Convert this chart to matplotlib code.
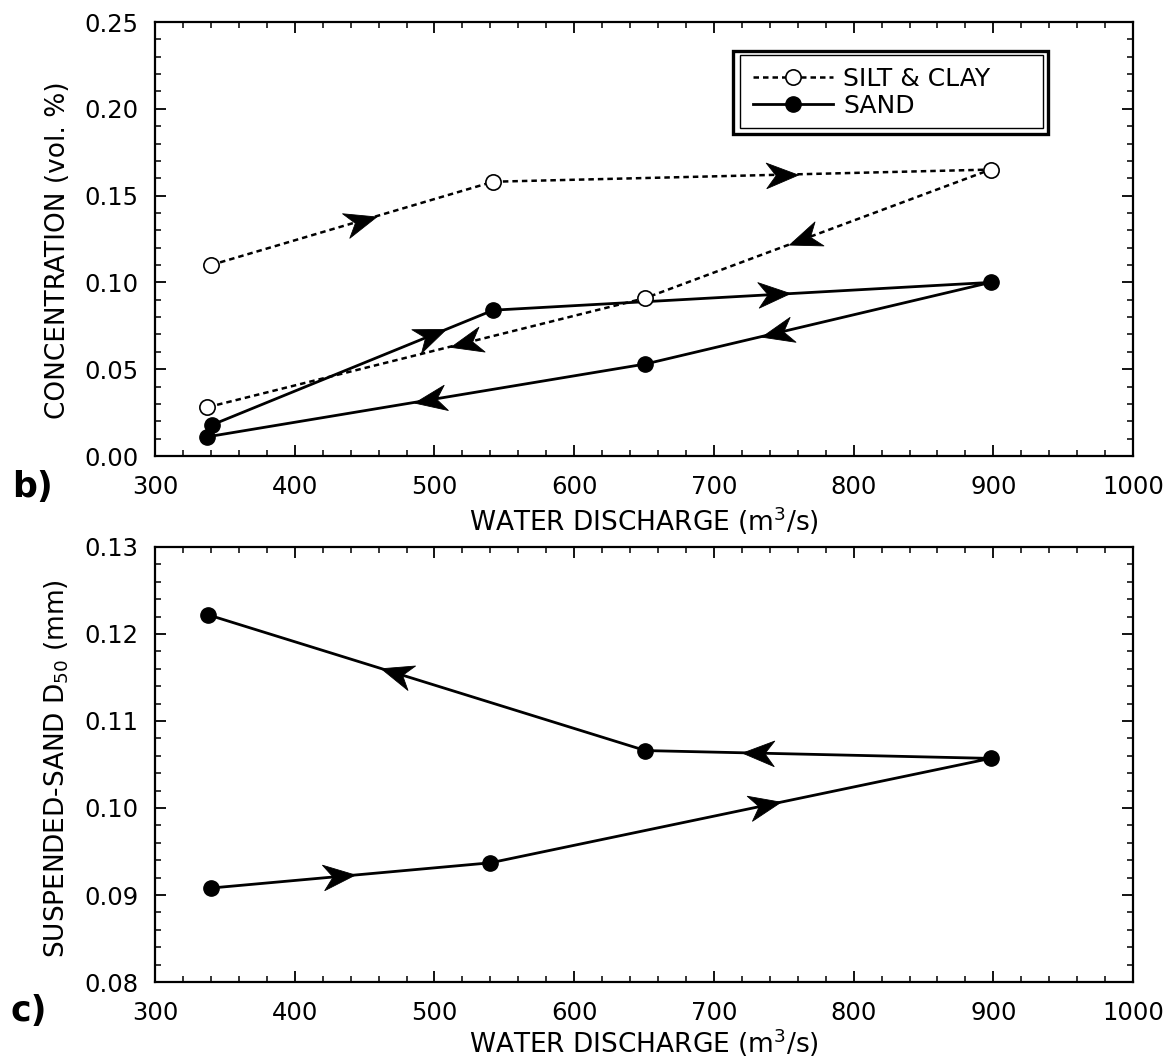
import matplotlib
matplotlib.use('Agg')
import matplotlib.pyplot as plt
import numpy as np
from matplotlib.path import Path
from matplotlib.markers import MarkerStyle
from matplotlib.transforms import Affine2D
from matplotlib.patches import Rectangle
from matplotlib.ticker import MultipleLocator, FormatStrFormatter

# panel b: concentration loop (order follows the hydrograph)
silt_q = [340, 542, 898, 651, 337]
silt_c = [0.110, 0.158, 0.165, 0.091, 0.028]
sand_q = [341, 542, 898, 651, 337]
sand_c = [0.018, 0.084, 0.100, 0.053, 0.011]

# panel c: suspended-sand D50
d50_q = [340, 540, 898, 651, 338]
d50 = [0.0908, 0.0937, 0.1057, 0.1066, 0.1222]

# where the arrowheads sit along each segment (fraction of segment)
silt_arrows = [0.53, 0.58, 0.54, 0.41]
sand_arrows = [0.78, 0.565, 0.62, 0.49]
d50_arrows = [0.46, 0.55, 0.675, 0.57]

arrow_path = Path([(1, 0), (-1, 0.8), (-0.4, 0), (-1, -0.8), (1, 0)],
                  [Path.MOVETO, Path.LINETO, Path.LINETO, Path.LINETO, Path.CLOSEPOLY])


def add_arrows(ax, xs, ys, fracs, ms=23):
    for i, f in enumerate(fracs):
        x0, y0, x1, y1 = xs[i], ys[i], xs[i + 1], ys[i + 1]
        p0 = ax.transData.transform((x0, y0))
        p1 = ax.transData.transform((x1, y1))
        ang = np.degrees(np.arctan2(p1[1] - p0[1], p1[0] - p0[0]))
        m = MarkerStyle(arrow_path, transform=Affine2D().rotate_deg(ang))
        ax.plot(x0 + f * (x1 - x0), y0 + f * (y1 - y0), marker=m, ms=ms,
                color='black', mew=0.6, linestyle='none', zorder=5)


def style_axes(ax, label_y):
    ax.set_xlim(300, 1000)
    ax.xaxis.set_major_locator(MultipleLocator(100))
    ax.xaxis.set_minor_locator(MultipleLocator(20))
    ax.tick_params(which='both', direction='in', top=True, right=True, labelsize=17.5)
    ax.tick_params(which='major', length=8, width=1.3)
    ax.tick_params(which='minor', length=4.5, width=1.1)
    ax.tick_params(axis='x', pad=14)
    ax.tick_params(axis='y', pad=12)
    for s in ax.spines.values():
        s.set_linewidth(1.6)
    ax.set_xlabel('WATER DISCHARGE (m$\\mathregular{^3}$/s)', fontsize=19)
    ax.xaxis.set_label_coords(0.50, label_y)


fig = plt.figure(figsize=(11.71, 10.59), dpi=100)
ax1 = fig.add_axes([0.1324, 0.5694, 0.8352, 0.4098])
ax2 = fig.add_axes([0.1324, 0.0727, 0.8352, 0.4108])

# ---- panel b
style_axes(ax1, -0.112)
ax1.set_ylim(0, 0.25)
ax1.yaxis.set_major_locator(MultipleLocator(0.05))
ax1.yaxis.set_minor_locator(MultipleLocator(0.01))
ax1.yaxis.set_major_formatter(FormatStrFormatter('%.2f'))
ax1.set_ylabel('CONCENTRATION (vol. %)', fontsize=19)
ax1.yaxis.set_label_coords(-0.086, 0.475)

ax1.plot(sand_q, sand_c, '-', color='black', lw=2.0, marker='o', ms=11,
         mfc='black', mec='black', label='SAND', zorder=2)
ax1.plot(silt_q, silt_c, linestyle=(0, (2.2, 1.6)), color='black', lw=1.8,
         marker='o', ms=11, mfc='white', mec='black', mew=1.2,
         label='SILT & CLAY', zorder=3)
add_arrows(ax1, silt_q, silt_c, silt_arrows)
add_arrows(ax1, sand_q, sand_c, sand_arrows)

h, l = ax1.get_legend_handles_labels()
ax1.legend(h[::-1], l[::-1], loc='upper left', bbox_to_anchor=(0.6115, 0.896),
           frameon=False, fontsize=18, handlelength=3.2, handletextpad=0.4,
           labelspacing=0.1, borderpad=0, borderaxespad=0, numpoints=1)
ax1.add_patch(Rectangle((0.591, 0.742), 0.322, 0.191, transform=ax1.transAxes,
                        fill=False, lw=2.4, ec='black'))
ax1.add_patch(Rectangle((0.598, 0.756), 0.310, 0.168, transform=ax1.transAxes,
                        fill=False, lw=1.0, ec='black'))

# ---- panel c
style_axes(ax2, -0.102)
ax2.set_ylim(0.08, 0.13)
ax2.yaxis.set_major_locator(MultipleLocator(0.01))
ax2.yaxis.set_minor_locator(MultipleLocator(0.002))
ax2.yaxis.set_major_formatter(FormatStrFormatter('%.2f'))
ax2.set_ylabel('SUSPENDED-SAND D$\\mathregular{_{50}}$ (mm)', fontsize=19)
ax2.yaxis.set_label_coords(-0.086, 0.49)

ax2.plot(d50_q, d50, '-', color='black', lw=2.0, marker='o', ms=11,
         mfc='black', mec='black')
add_arrows(ax2, d50_q, d50, d50_arrows)

fig.text(12 / 1171, 1 - 487 / 1059, 'b)', fontsize=25, fontweight='bold',
         ha='left', va='center')
fig.text(10 / 1171, 1 - 1011 / 1059, 'c)', fontsize=25, fontweight='bold',
         ha='left', va='center')

fig.savefig('out.png', dpi=100)
